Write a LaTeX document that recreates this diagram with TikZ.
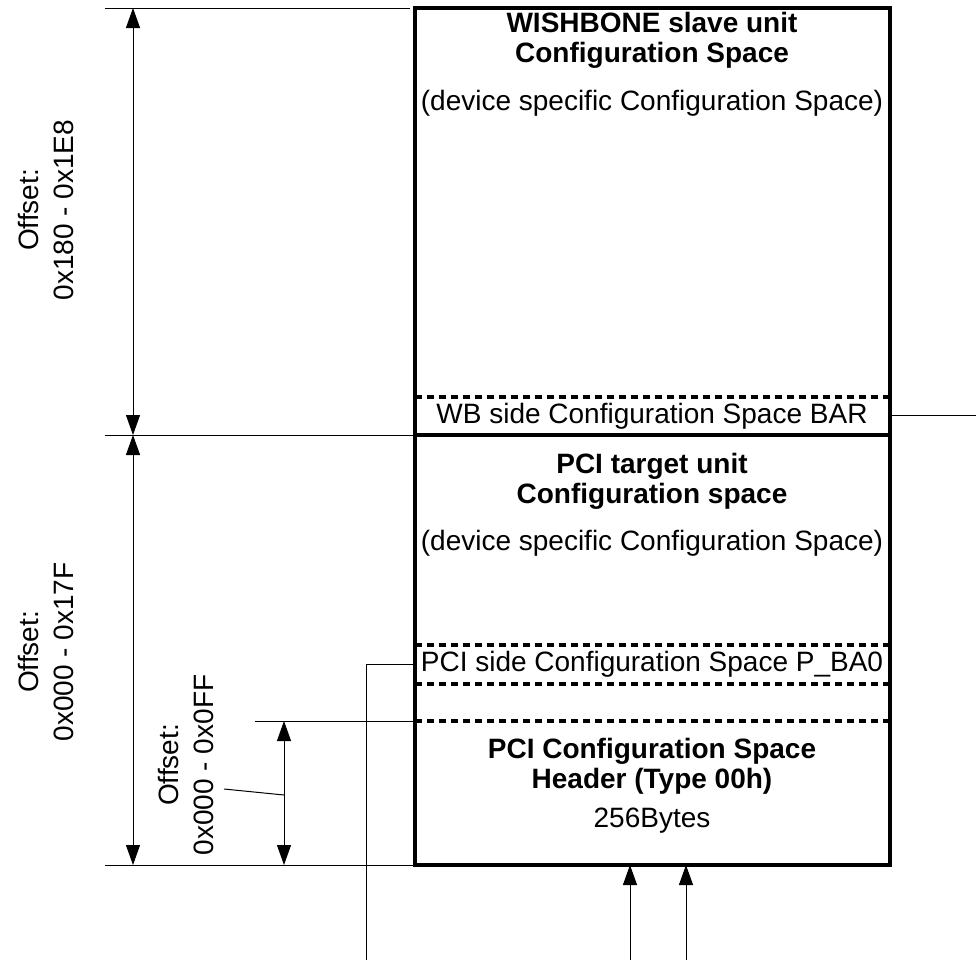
\documentclass[tikz,border=0pt]{standalone}
\usepackage{fontspec}
\setmainfont{Liberation Sans}
\usetikzlibrary{arrows.meta,positioning}

\begin{document}
\begin{tikzpicture}[x=0.75pt,y=-0.75pt,
    frame/.style={line width=2.6pt},
    sepline/.style={line width=2.6pt, dash pattern=on 5pt off 4pt},
    thinln/.style={line width=0.75pt},
    dim/.style={thinln, {Triangle[length=15pt,width=10.5pt]}-{Triangle[length=15pt,width=10.5pt]}},
    upar/.style={thinln, -{Triangle[length=15pt,width=10.5pt]}},
    txt/.style={font=\fontsize{21}{22.5}\selectfont, align=center, inner sep=0pt},
    head/.style={txt, font=\fontsize{21}{22.5}\selectfont\bfseries},
    offs/.style={font=\fontsize{21}{26}\selectfont, align=center, inner sep=0pt, rotate=90}
  ]
    \useasboundingbox (0,0) rectangle (976,960);
    % memory map frame
    \coordinate (tl) at (415,8);
    \coordinate (br) at (890,865);
    \draw[frame] (tl) rectangle (br);
    \draw[frame] (415,435) -- (890,435);
    \foreach \yy in {397,645,684,721}
      \draw[sepline] (415,\yy) -- (890,\yy);
    % section texts
    \node[head] (wbhead) at (652,40) {WISHBONE slave unit\\Configuration Space};
    \node[txt] (wbdev) at (652,103) {(device specific Configuration Space)};
    \node[txt] (wbbar) at (652,416) {WB side Configuration Space BAR};
    \node[head] (pcihead) at (652,481) {PCI target unit\\Configuration space};
    \node[txt] (pcidev) at (652,543) {(device specific Configuration Space)};
    \node[txt] (pcibar) at (652,664) {PCI side Configuration Space P\_BA0};
    \node[head] (hdrhead) at (652,766) {PCI Configuration Space\\Header (Type 00h)};
    \node[txt] (hdrsize) at (652,821) {256Bytes};
    % extension lines
    \coordinate (e1) at (105,8);   \coordinate (e1r) at (410,8);
    \coordinate (e2) at (105,435); \coordinate (e2r) at (415,435);
    \coordinate (e3) at (105,865); \coordinate (e3r) at (415,865);
    \coordinate (e4) at (255,721); \coordinate (e4r) at (415,721);
    \foreach \a/\b in {e1/e1r,e2/e2r,e3/e3r,e4/e4r}
      \draw[thinln] (\a) -- (\b);
    % dimension arrows
    \coordinate (d1a) at (133,8);
    \coordinate (d1b) at (133,435);
    \coordinate (d2b) at (133,865);
    \coordinate (d3a) at (284,721);
    \coordinate (d3b) at (284,865);
    \draw[dim] (d1a) -- (d1b);
    \draw[dim] (d1b) -- (d2b);
    \draw[dim] (d3a) -- (d3b);
    \node[offs] (off1) at (46,210) {Offset:\\0x180 - 0x1E8};
    \node[offs] (off2) at (46,652) {Offset:\\0x000 - 0x17F};
    \node[offs] (off3) at (186,765) {Offset:\\0x000 - 0x0FF};
    \coordinate (lead) at (224,789);
    \draw[thinln] (lead) -- (284,795);
    % bus connections
    \coordinate (wbout) at (976,415);
    \draw[thinln] (890,415) -- (wbout);
    \coordinate (pbknee) at (366,664);
    \coordinate (pbout) at (366,960);
    \draw[thinln] (415,664) -- (pbknee) -- (pbout);
    \coordinate (in1) at (630,960);
    \coordinate (in2) at (686,960);
    \draw[upar] (in1) -- (630,865);
    \draw[upar] (in2) -- (686,865);
  \end{tikzpicture}
\end{document}
